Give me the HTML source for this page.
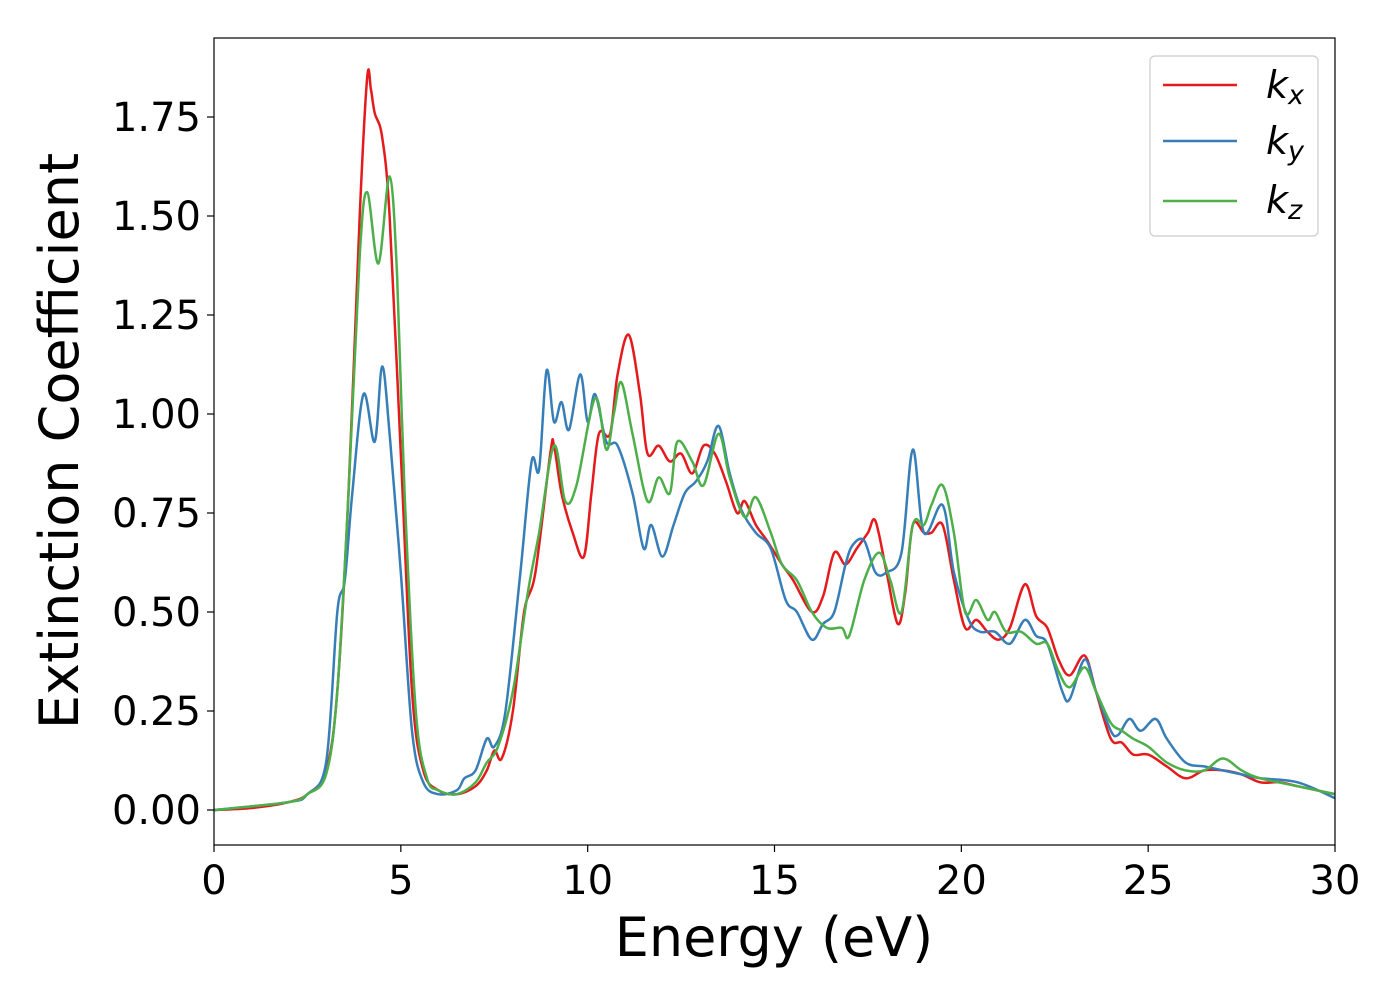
<!DOCTYPE html>
<html><head><meta charset="utf-8">
<style>
html,body{margin:0;padding:0;background:#fff;}
svg{display:block;font-family:"DejaVu Sans","Liberation Sans",sans-serif;}
</style></head>
<body>
<svg id="chart" width="1400" height="1000" viewBox="0 0 1400 1000" xmlns="http://www.w3.org/2000/svg">
<rect width="1400" height="1000" fill="#fff"/>
<g id="series"></g>
<rect x="214" y="38" width="1121" height="807" fill="none" stroke="#000" stroke-width="1.2"/>
<g id="xticks"></g>
<g id="yticks"></g>
<text x="774" y="956" font-size="54" text-anchor="middle">Energy (eV)</text>
<text transform="translate(78,441) rotate(-90)" font-size="54" text-anchor="middle">Extinction Coefficient</text>
<g>
<rect x="1150" y="56" width="168" height="180" rx="5" fill="#fff" fill-opacity="0.8" stroke="#ccc" stroke-width="1.2"/>
<line x1="1163" y1="85" x2="1237" y2="85" stroke="#e41a1c" stroke-width="2.5"/>
<text x="1266" y="98" font-size="38" font-style="italic">k<tspan font-size="27" dy="6">x</tspan></text>
<line x1="1163" y1="141" x2="1237" y2="141" stroke="#377eb8" stroke-width="2.5"/>
<text x="1266" y="154" font-size="38" font-style="italic">k<tspan font-size="27" dy="6">y</tspan></text>
<line x1="1163" y1="201" x2="1237" y2="201" stroke="#4daf4a" stroke-width="2.5"/>
<text x="1266" y="213" font-size="38" font-style="italic">k<tspan font-size="27" dy="6">z</tspan></text>
</g>
</svg>
<script>
const xTicks=[0,5,10,15,20,25,30];
const yTicks=[0,0.25,0.5,0.75,1.0,1.25,1.5,1.75];
const yTickLabels=["0.00","0.25","0.50","0.75","1.00","1.25","1.50","1.75"];
const kxE=[0,1,2,2.5,3,3.3,3.6,3.9,4.1,4.2,4.3,4.5,4.7,5.0,5.3,5.6,6,6.5,7,7.3,7.5,7.7,8,8.3,8.6,9,9.1,9.3,9.6,9.9,10.1,10.3,10.6,10.8,11.1,11.4,11.6,11.9,12.2,12.5,12.8,13.1,13.4,13.7,14,14.2,14.5,14.8,15.2,15.5,16,16.3,16.6,16.9,17.2,17.5,17.7,18,18.3,18.5,18.7,19,19.2,19.5,19.8,20.1,20.4,20.7,21,21.3,21.7,22,22.3,22.6,22.9,23.3,23.6,24,24.3,24.6,25,25.5,26,26.5,27,27.5,28,28.5,29,29.5,30];
const kxV=[0,0.005,0.02,0.04,0.1,0.3,0.8,1.5,1.85,1.82,1.76,1.7,1.5,0.9,0.3,0.1,0.05,0.04,0.06,0.1,0.15,0.13,0.25,0.5,0.6,0.9,0.92,0.8,0.7,0.64,0.8,0.95,0.95,1.1,1.2,1.05,0.9,0.92,0.88,0.9,0.85,0.92,0.9,0.83,0.75,0.78,0.72,0.68,0.62,0.58,0.5,0.54,0.65,0.62,0.66,0.7,0.73,0.6,0.47,0.55,0.72,0.7,0.7,0.72,0.58,0.46,0.48,0.45,0.43,0.46,0.57,0.49,0.46,0.38,0.34,0.39,0.3,0.18,0.17,0.14,0.14,0.11,0.08,0.1,0.1,0.09,0.07,0.07,0.06,0.05,0.04];
const kyE=[0,2,2.5,3,3.3,3.5,3.7,4.0,4.3,4.5,4.7,5.0,5.3,5.6,6,6.5,6.7,7,7.3,7.5,7.8,8.2,8.5,8.7,8.9,9.1,9.3,9.5,9.8,10,10.2,10.5,10.8,11.2,11.5,11.7,12,12.3,12.6,12.9,13.2,13.5,13.8,14.1,14.5,14.9,15.3,15.6,16,16.3,16.6,16.9,17.1,17.4,17.7,18,18.4,18.7,19,19.5,19.8,20.2,20.5,20.9,21.3,21.7,22,22.3,22.7,22.9,23.3,23.6,24,24.2,24.5,24.8,25.2,25.5,26,26.5,27,27.5,28,29,30];
const kyV=[0,0.02,0.04,0.12,0.5,0.58,0.8,1.05,0.93,1.12,0.95,0.6,0.2,0.07,0.04,0.05,0.08,0.1,0.18,0.16,0.25,0.6,0.88,0.86,1.11,0.98,1.03,0.96,1.1,0.98,1.05,0.93,0.92,0.8,0.66,0.72,0.64,0.72,0.8,0.83,0.88,0.97,0.85,0.76,0.7,0.66,0.53,0.5,0.43,0.47,0.5,0.62,0.67,0.68,0.6,0.6,0.65,0.91,0.7,0.77,0.6,0.48,0.45,0.45,0.42,0.48,0.44,0.42,0.3,0.28,0.38,0.3,0.2,0.19,0.23,0.2,0.23,0.18,0.12,0.11,0.1,0.09,0.08,0.07,0.03];
const kzE=[0,2,2.5,3,3.3,3.6,3.9,4.1,4.4,4.7,4.9,5.1,5.4,5.7,6,6.5,7,7.3,7.6,8,8.4,8.7,9.1,9.4,9.7,10.2,10.5,10.7,10.9,11.2,11.6,11.9,12.2,12.4,12.8,13.1,13.5,13.8,14.2,14.5,14.9,15.2,15.6,16,16.4,16.8,17,17.4,17.8,18.1,18.4,18.7,19,19.2,19.5,19.8,20.1,20.4,20.7,20.9,21.2,21.6,22,22.3,22.6,22.9,23.3,23.6,24,24.3,24.6,25,25.5,26,26.5,27,27.5,28,29,30];
const kzV=[0,0.02,0.04,0.09,0.3,0.8,1.4,1.56,1.38,1.6,1.35,0.8,0.25,0.08,0.05,0.04,0.07,0.12,0.16,0.3,0.55,0.7,0.92,0.78,0.82,1.04,0.91,1.0,1.08,0.95,0.78,0.84,0.8,0.93,0.88,0.82,0.95,0.84,0.74,0.79,0.7,0.62,0.58,0.5,0.46,0.46,0.44,0.58,0.65,0.58,0.5,0.72,0.72,0.77,0.82,0.7,0.5,0.53,0.48,0.5,0.45,0.45,0.42,0.42,0.35,0.31,0.36,0.3,0.22,0.2,0.18,0.16,0.12,0.1,0.1,0.13,0.1,0.08,0.06,0.04];

const X0=214,X1=1335,XMIN=0,XMAX=30;
const Y0=810,YPER=396; // px per unit
function sx(v){return X0+(v-XMIN)/(XMAX-XMIN)*(X1-X0);}
function sy(v){return Y0-v*YPER;}
const NS="http://www.w3.org/2000/svg";
function mk(tag,attrs,parent){const e=document.createElementNS(NS,tag);for(const k in attrs)e.setAttribute(k,attrs[k]);parent.appendChild(e);return e;}

function smoothPath(E,V){
  const p=E.map((e,i)=>[sx(e),sy(V[i])]);
  let d="M"+p[0][0].toFixed(1)+","+p[0][1].toFixed(1);
  for(let i=0;i<p.length-1;i++){
    const a=p[Math.max(0,i-1)],b=p[i],c=p[i+1],n=p[Math.min(p.length-1,i+2)];
    const c1=[b[0]+(c[0]-a[0])/6,b[1]+(c[1]-a[1])/6];
    const c2=[c[0]-(n[0]-b[0])/6,c[1]-(n[1]-b[1])/6];
    d+="C"+c1[0].toFixed(1)+","+c1[1].toFixed(1)+" "+c2[0].toFixed(1)+","+c2[1].toFixed(1)+" "+c[0].toFixed(1)+","+c[1].toFixed(1);
  }
  return d;
}
const sg=document.getElementById('series');
const clip=mk('clipPath',{id:'clip'},sg);
mk('rect',{x:X0,y:38,width:X1-X0,height:807},clip);
const seriesList=[["kx",kxE,kxV,"#e41a1c"],["ky",kyE,kyV,"#377eb8"],["kz",kzE,kzV,"#4daf4a"]];
seriesList.forEach(s=>{
  const el=mk('path',{d:smoothPath(s[1],s[2]),fill:"none",stroke:s[3],"stroke-width":2.5,"clip-path":"url(#clip)"},sg);
  
  
});
const xg=document.getElementById('xticks');
xTicks.forEach(t=>{
  const l=mk('line',{x1:sx(t),x2:sx(t),y1:845,y2:852,stroke:"#000","stroke-width":1.2},xg);
  
  
  const tx=mk('text',{x:sx(t),y:894,"font-size":40,"text-anchor":"middle"},xg);
  tx.textContent=t;
  
  
});
const yg=document.getElementById('yticks');
yTicks.forEach((t,i)=>{
  const l=mk('line',{x1:207,x2:214,y1:sy(t),y2:sy(t),stroke:"#000","stroke-width":1.2},yg);
  
  
  const tx=mk('text',{x:201,y:sy(t)+14,"font-size":40,"text-anchor":"end"},yg);
  tx.textContent=yTickLabels[i];
  
  
});
</script>
</body></html>
